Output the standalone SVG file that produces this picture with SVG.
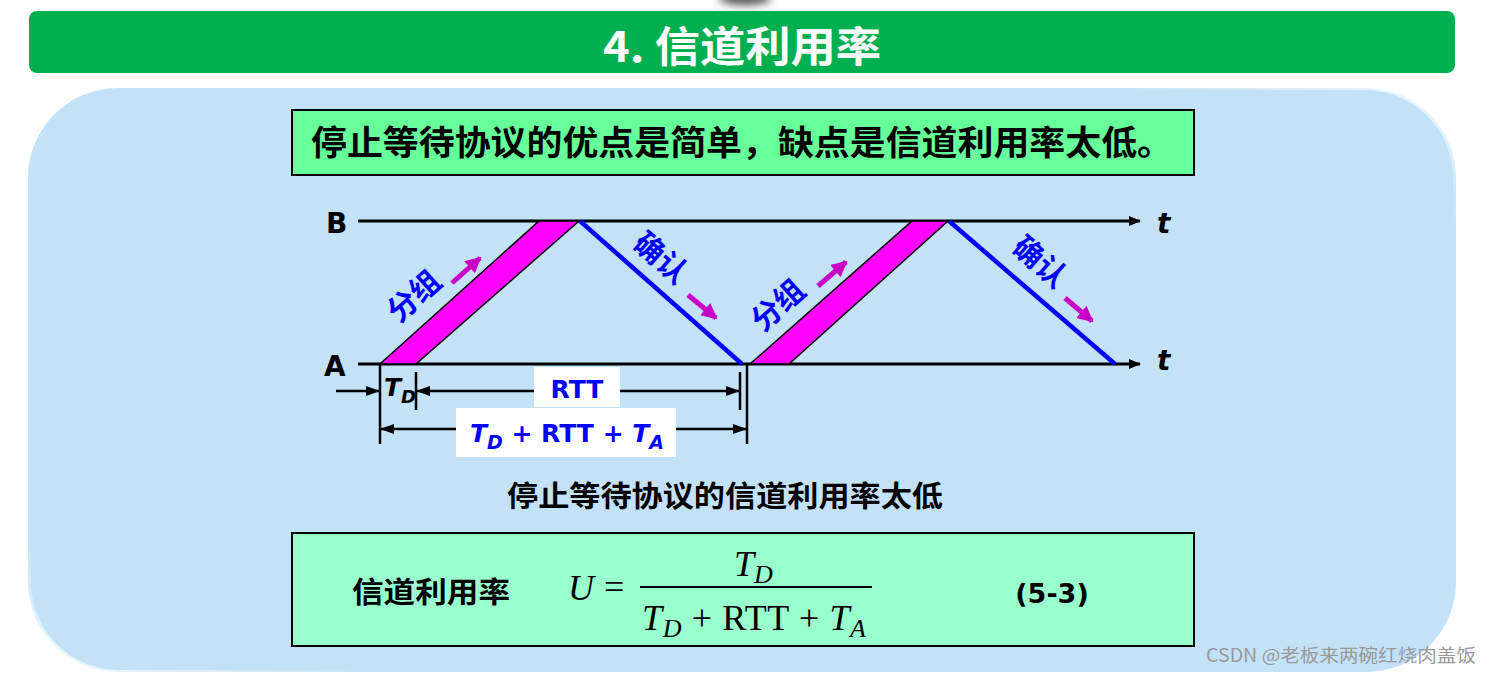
<svg xmlns="http://www.w3.org/2000/svg" width="1492" height="674" viewBox="0 0 1492 674">
<defs>
<style>
.cjk{font-family:"Noto Sans CJK SC","Noto Sans",sans-serif;font-weight:bold}
.lat{font-family:"DejaVu Sans","Liberation Sans",sans-serif;font-weight:bold}
.math{font-family:"Liberation Serif","DejaVu Serif",serif}
.ax{stroke:#000;stroke-width:3;fill:none}
.dim{stroke:#000;stroke-width:2.5;fill:none}
.ack{stroke:#0000FF;stroke-width:4.5;fill:none}
.pkt{fill:#FF00FF;stroke:#000;stroke-width:1.5}
.mag{stroke:#C800C8;stroke-width:5;fill:none}
.blue{fill:#0000FF}
</style>
<marker id="ah" viewBox="0 0 12 10" refX="11" refY="5" markerWidth="12" markerHeight="10" markerUnits="userSpaceOnUse" orient="auto"><path d="M0,0 L12,5 L0,10 Z" fill="#000"/></marker>
<marker id="ah2" viewBox="0 0 14 10" refX="13" refY="5" markerWidth="14" markerHeight="10" markerUnits="userSpaceOnUse" orient="auto-start-reverse"><path d="M0,0 L14,5 L0,10 Z" fill="#000"/></marker>
<marker id="mh" viewBox="0 0 16 16" refX="14" refY="8" markerWidth="16" markerHeight="16" markerUnits="userSpaceOnUse" orient="auto"><path d="M0,0 L16,8 L0,16 Z" fill="#C800C8"/></marker>
<filter id="blur" x="-50%" y="-50%" width="200%" height="200%"><feGaussianBlur stdDeviation="4"/></filter>
<linearGradient id="rim" x1="0" y1="1" x2="1" y2="0">
<stop offset="0" stop-color="#F2FBFF"/><stop offset="0.12" stop-color="#C3E2F7"/><stop offset="0.88" stop-color="#C3E2F7"/><stop offset="1" stop-color="#F2FBFF"/>
</linearGradient>
</defs>

<rect width="1492" height="674" fill="#FFFFFF"/>
<ellipse cx="745" cy="-2" rx="26" ry="7" fill="#555" filter="url(#blur)"/>

<g id="title">
<rect x="29" y="11" width="1426" height="62" rx="8" fill="#00B050"/>
<text x="742" y="62" text-anchor="middle" font-size="42" fill="#FFFFFF" class="cjk" textLength="278" lengthAdjust="spacingAndGlyphs">4. 信道利用率</text>
</g>

<g id="panel">
<rect x="28" y="88" width="1428" height="584" rx="90" fill="url(#rim)"/>
<rect x="31" y="90" width="1422" height="580" rx="88" fill="#C3E2F7"/>
</g>

<g id="summary">
<rect x="292" y="110" width="902" height="65" fill="#66FF99" stroke="#000" stroke-width="2"/>
<text x="311" y="155" font-size="34" class="cjk" fill="#000" textLength="862" lengthAdjust="spacingAndGlyphs">停止等待协议的优点是简单，缺点是信道利用率太低。</text>
</g>

<g id="axis-B">
<text x="326" y="233" font-size="28" class="lat">B</text>
<line x1="358" y1="221" x2="1140" y2="221" class="ax" marker-end="url(#ah)"/>
<text x="1157" y="233" font-size="28" class="lat" font-style="italic">t</text>
</g>
<g id="axis-A">
<text x="324" y="376" font-size="28" class="lat">A</text>
<line x1="358" y1="364" x2="1140" y2="364" class="ax" marker-end="url(#ah)"/>
<text x="1157" y="370" font-size="28" class="lat" font-style="italic">t</text>
</g>

<g id="packet1">
<polygon points="380,364 416,364 579,221 539,221" class="pkt"/>
<text transform="translate(421,304) rotate(-42)" text-anchor="middle" font-size="30" class="cjk blue">分组</text>
</g>
<g id="ack1">
<line x1="580" y1="221" x2="742" y2="364" class="ack"/>
<text transform="translate(654,266) rotate(41)" text-anchor="middle" font-size="30" class="cjk blue">确认</text>
</g>
<g id="packet2">
<polygon points="750,364 789,364 948,221 912,221" class="pkt"/>
<text transform="translate(785,313) rotate(-42)" text-anchor="middle" font-size="30" class="cjk blue">分组</text>
</g>
<g id="ack2">
<line x1="949" y1="221" x2="1115" y2="364" class="ack"/>
<text transform="translate(1033,270) rotate(41)" text-anchor="middle" font-size="30" class="cjk blue">确认</text>
</g>

<g id="connectors">
<line x1="452" y1="283" x2="480" y2="258" class="mag" marker-end="url(#mh)"/>
<line x1="688" y1="295" x2="716" y2="318" class="mag" marker-end="url(#mh)"/>
<line x1="818" y1="286" x2="846" y2="262" class="mag" marker-end="url(#mh)"/>
<line x1="1065" y1="298" x2="1092" y2="321" class="mag" marker-end="url(#mh)"/>

<line x1="380" y1="364" x2="380" y2="444" class="dim"/>
<line x1="416" y1="372" x2="416" y2="410" class="dim"/>
<line x1="740" y1="372" x2="740" y2="410" class="dim"/>
<line x1="747" y1="364" x2="747" y2="444" class="dim"/>
<line x1="336" y1="391" x2="379" y2="391" class="dim" marker-end="url(#ah2)"/>
<line x1="417" y1="391" x2="739" y2="391" class="dim" marker-start="url(#ah2)" marker-end="url(#ah2)"/>
<line x1="381" y1="429" x2="746" y2="429" class="dim" marker-start="url(#ah2)" marker-end="url(#ah2)"/>
</g>

<g id="label-TD">
<text x="384" y="396" font-size="25" class="lat" font-style="italic">T<tspan font-size="18" dy="7">D</tspan></text>
</g>
<g id="label-RTT">
<rect x="534" y="367" width="86" height="40" fill="#FFFFFF"/>
<text x="577" y="398" text-anchor="middle" font-size="25" class="lat blue">RTT</text>
</g>
<g id="label-total">
<rect x="456" y="408" width="220" height="49" fill="#FFFFFF"/>
<text x="567" y="442" text-anchor="middle" font-size="25" class="lat blue"><tspan font-style="italic">T</tspan><tspan font-style="italic" font-size="19" dy="7">D</tspan><tspan dy="-7"> + RTT + </tspan><tspan font-style="italic">T</tspan><tspan font-style="italic" font-size="19" dy="7">A</tspan></text>
</g>

<g id="caption">
<text x="725" y="507" text-anchor="middle" font-size="29" class="cjk" fill="#000" textLength="436" lengthAdjust="spacingAndGlyphs">停止等待协议的信道利用率太低</text>
</g>

<g id="formula">
<rect x="292" y="533" width="902" height="113" fill="#99FFCC" stroke="#000" stroke-width="2"/>
<text x="352" y="603" font-size="29" class="cjk" fill="#000" textLength="158" lengthAdjust="spacingAndGlyphs">信道利用率</text>
<text x="568" y="600" font-size="36" class="math" font-style="italic">U</text>
<text x="604" y="599" font-size="36" class="math">=</text>
<line x1="640" y1="587" x2="872" y2="587" stroke="#000" stroke-width="2"/>
<text x="734" y="576" font-size="36" class="math"><tspan font-style="italic">T</tspan><tspan font-style="italic" font-size="26" dy="7">D</tspan></text>
<text x="642" y="630" font-size="36" class="math" textLength="224"><tspan font-style="italic">T</tspan><tspan font-style="italic" font-size="26" dy="7">D</tspan><tspan dy="-7"> + RTT + </tspan><tspan font-style="italic">T</tspan><tspan font-style="italic" font-size="26" dy="7">A</tspan></text>
<text x="1052" y="603" text-anchor="middle" font-size="27" class="lat" fill="#000">(5-3)</text>
</g>

<g id="watermark">
<text x="1206" y="662" font-size="18" font-family="'Noto Sans CJK SC','Liberation Sans',sans-serif" fill="#9A9A9A" textLength="270" lengthAdjust="spacingAndGlyphs">CSDN @老板来两碗红烧肉盖饭</text>
</g>
</svg>
